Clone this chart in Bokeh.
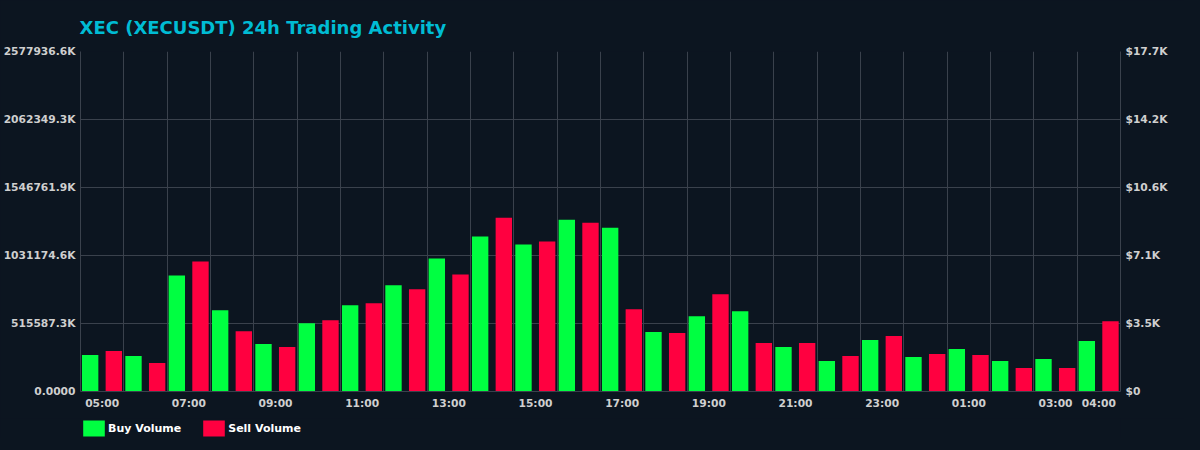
from bokeh.plotting import figure
from bokeh.layouts import column
from bokeh.models import (ColumnDataSource, FixedTicker, CustomJSTickFormatter, LinearAxis,
                          Range1d, Legend, LegendItem)
from bokeh.transform import dodge
from bokeh.embed import file_html
from bokeh.resources import INLINE

# ---- data ----
hours = ["05:00", "06:00", "07:00", "08:00", "09:00", "10:00", "11:00", "12:00",
         "13:00", "14:00", "15:00", "16:00", "17:00", "18:00", "19:00", "20:00",
         "21:00", "22:00", "23:00", "00:00", "01:00", "02:00", "03:00", "04:00"]
buy_volume = [276.7e6, 269.1e6, 880.3e6, 616.2e6, 359.7e6, 518.1e6, 653.9e6, 804.8e6,
              1008.5e6, 1174.5e6, 1114.2e6, 1302.8e6, 1242.5e6, 450.2e6, 570.9e6, 608.6e6,
              337.0e6, 231.4e6, 389.8e6, 261.6e6, 321.9e6, 231.4e6, 246.5e6, 382.3e6]
sell_volume = [306.8e6, 216.3e6, 985.9e6, 457.7e6, 337.0e6, 540.7e6, 669.0e6, 774.6e6,
               887.8e6, 1317.9e6, 1136.8e6, 1280.2e6, 623.7e6, 442.7e6, 736.9e6, 367.2e6,
               367.2e6, 269.1e6, 420.0e6, 284.2e6, 276.7e6, 178.6e6, 178.6e6, 533.2e6]
labelled_slots = [0, 2, 4, 6, 8, 10, 12, 14, 16, 18, 20, 22, 23]
series_names = ["Buy Volume", "Sell Volume"]
volume_max = 2577936570.0
usd_max = 17700.0

BG = "#0c1520"
GRID = "#3a414c"
TXT = "#cfcfcf"
GREEN = "#00ff41"
RED = "#ff0040"
FONT = "DejaVu Sans"

slot = [i + 0.5 for i in range(len(hours))]
src = ColumnDataSource(dict(slot=slot, buy=buy_volume, sell=sell_volume, hour=hours))

p = figure(frame_width=1040, frame_height=340, output_backend="svg", toolbar_location=None,
           x_range=Range1d(0, len(hours)), y_range=Range1d(0, volume_max),
           min_border_left=80, min_border_right=64, min_border_top=51, min_border_bottom=27,
           background_fill_color=BG, border_fill_color=BG, outline_line_color=None)

p.title.text = "XEC (XECUSDT) 24h Trading Activity"
p.title.text_color = "#00bcd4"
p.title.text_font = FONT
p.title.text_font_size = "18px"
p.title.text_font_style = "bold"
p.title.offset = -1
p.title.standoff = 28

bar_style = dict(width=0.378, source=src, line_color=None)
rb = p.vbar(x=dodge("slot", -0.277, range=p.x_range), top="buy", fill_color=GREEN, **bar_style)
rs = p.vbar(x=dodge("slot", 0.269, range=p.x_range), top="sell", fill_color=RED, **bar_style)

# axes
yt = [volume_max * k / 5 for k in range(6)]
p.yaxis.ticker = FixedTicker(ticks=yt)
p.yaxis.formatter = CustomJSTickFormatter(code="""
    if (tick == 0) return "0.0000";
    return (tick/1000).toFixed(1) + "K";
""")
p.extra_y_ranges = {"usd": Range1d(0, usd_max)}
ra = LinearAxis(y_range_name="usd")
ra.ticker = FixedTicker(ticks=[usd_max * k / 5 for k in range(6)])
ra.formatter = CustomJSTickFormatter(code="""
    if (tick == 0) return "$0";
    return "$" + (tick/1000).toFixed(1) + "K";
""")
p.add_layout(ra, "right")

p.xaxis.ticker = FixedTicker(ticks=[i + 0.5 for i in labelled_slots])
p.xaxis.formatter = CustomJSTickFormatter(args=dict(labels=hours), code="""
    return labels[Math.floor(tick)];
""")

for ax in [p.xaxis[0], p.yaxis[0], ra]:
    ax.axis_line_color = GRID
    ax.major_tick_line_color = None
    ax.minor_tick_line_color = None
    ax.major_tick_out = 0
    ax.major_tick_in = 0
    ax.major_label_text_color = TXT
    ax.major_label_text_font = FONT
    ax.major_label_text_font_size = "10.7px"
    ax.major_label_text_font_style = "bold"
    ax.major_label_standoff = 5

p.xgrid.ticker = FixedTicker(ticks=list(range(len(hours) + 1)))
p.xgrid.grid_line_color = GRID
p.ygrid.ticker = FixedTicker(ticks=yt)
p.ygrid.grid_line_color = GRID

# legend strip below the chart (hidden proxy renderers carry the series styles)
lg = figure(width=1184, height=20, output_backend="svg", toolbar_location=None,
            x_range=Range1d(0, len(hours)), y_range=Range1d(0, volume_max),
            x_axis_type=None, y_axis_type=None,
            min_border_left=74, min_border_right=0, min_border_top=0, min_border_bottom=0,
            background_fill_color=BG, border_fill_color=BG, outline_line_color=None)
lg.grid.visible = False
db = lg.vbar(x="slot", top="buy", fill_color=GREEN, visible=False, **bar_style)
ds = lg.vbar(x="slot", top="sell", fill_color=RED, visible=False, **bar_style)
legend = Legend(items=[LegendItem(label=series_names[0], renderers=[db]),
                       LegendItem(label=series_names[1], renderers=[ds])],
                orientation="horizontal", location="top_left", click_policy="none",
                background_fill_alpha=0, border_line_color=None,
                label_text_color="#ffffff", label_text_font=FONT,
                label_text_font_size="11px", label_text_font_style="bold",
                glyph_width=27, glyph_height=20, label_standoff=1, spacing=19,
                padding=0, margin=0, label_height=20)
lg.add_layout(legend, "center")

layout = column(p, lg, spacing=0,
                styles={"background-color": BG, "box-shadow": "0 0 0 40px " + BG})
open("out.html", "w").write(file_html(layout, INLINE))
